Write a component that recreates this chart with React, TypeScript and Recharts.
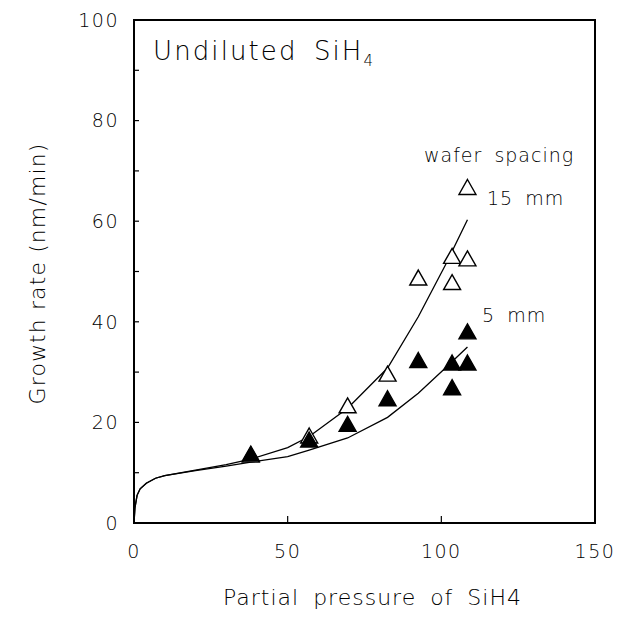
import React from "react";
import {
  ComposedChart,
  Line,
  Scatter,
  XAxis,
  YAxis,
  Label,
} from "recharts";

// measured points, wafer spacing 5 mm (filled) and 15 mm (open)
const pressure5 = [38, 57, 69.5, 82.5, 92.5, 103.5, 103.5, 108.5, 108.5];
const rate5 = [13.8, 16.6, 19.7, 24.8, 32.4, 31.9, 27.0, 38.1, 31.9];
const pressure15 = [38, 57, 69.5, 82.5, 92.5, 103.5, 103.5, 108.5, 108.5];
const rate15 = [13.6, 17.4, 23.4, 29.7, 48.8, 53.1, 47.9, 52.6, 66.8];

// model curves
const curveX = [0, 0.3, 1, 2, 4, 7, 10, 20, 30, 38, 50, 57, 69.5, 82.5, 92.5, 101.5, 108.5];
const fit15 = [0, 3, 5.5, 6.8, 7.9, 8.9, 9.4, 10.5, 11.6, 12.7, 15.0, 17.2, 22.8, 30.8, 41.0, 51.5, 60.3];
const fit5 = [0, 3, 5.5, 6.8, 7.9, 8.9, 9.4, 10.4, 11.3, 12.1, 13.2, 14.5, 16.9, 21.0, 25.8, 30.9, 35.0];

const xTicks = [0, 50, 100, 150];
const yTicks = [0, 10, 20, 30, 40, 50, 60, 70, 80, 90, 100];

const pts5 = pressure5.map((x, i) => ({ x, y: rate5[i] }));
const pts15 = pressure15.map((x, i) => ({ x, y: rate15[i] }));
const line15 = curveX.map((x, i) => ({ x, y: fit15[i] }));
const line5 = curveX.map((x, i) => ({ x, y: fit5[i] }));

const FONT = "'DejaVu Sans', 'Liberation Sans', sans-serif";
const WEIGHT = 200;
const W = 628;
const H = 638;
const MARGIN = { top: 20, right: 33, left: 0, bottom: 0 };
const Y_AXIS_W = 134;
const X_AXIS_H = 115;
const Y_MARGIN = 15;
const X_MARGIN = 22;

const triangle = (filled: boolean) => (props: any) => {
  const { cx, cy } = props;
  const s = 8.5;
  const h = 15;
  const d = `M${cx},${cy - h / 2} L${cx + s},${cy + h / 2} L${cx - s},${cy + h / 2} Z`;
  return (
    <path
      d={d}
      fill={filled ? "#000" : "#fff"}
      stroke="#000"
      strokeWidth={1.4}
    />
  );
};

const YTick = (props: any) => {
  const { x, y, payload } = props;
  const axisX = x + Y_MARGIN;
  const v = payload.value;
  return (
    <g>
      <line x1={axisX} x2={axisX + 5} y1={y} y2={y} stroke="#000" strokeWidth={1.2} />
      {v % 20 === 0 && (
        <text
          x={x}
          y={y}
          dy="0.36em"
          textAnchor="end"
          fontSize={19}
          fontWeight={WEIGHT}
          letterSpacing={1.5}
          fontFamily={FONT}
          fill="#000"
        >
          {v}
        </text>
      )}
    </g>
  );
};

const XTick = (props: any) => {
  const { x, y, payload } = props;
  const axisY = y - X_MARGIN;
  return (
    <g>
      <line x1={x} x2={x} y1={axisY} y2={axisY - 7} stroke="#000" strokeWidth={1.2} />
      <text
        x={x}
        y={y}
        dy="0.71em"
        textAnchor="middle"
        fontSize={19}
        fontWeight={WEIGHT}
        letterSpacing={1.5}
        fontFamily={FONT}
        fill="#000"
      >
        {payload.value}
      </text>
    </g>
  );
};

const YTitle = (props: any) => {
  const { viewBox } = props;
  const cx = 37;
  const cy = viewBox.y + viewBox.height / 2 + 2;
  return (
    <text
      x={cx}
      y={cy}
      transform={`rotate(-90, ${cx}, ${cy})`}
      textAnchor="middle"
      dominantBaseline="central"
      fontSize={22}
      fontWeight={WEIGHT}
      letterSpacing={1.1}
      fontFamily={FONT}
      fill="#000"
    >
      Growth rate (nm/min)
    </text>
  );
};

const XTitle = (props: any) => {
  const { viewBox } = props;
  const cx = viewBox.x + viewBox.width / 2 + 8;
  return (
    <text
      x={cx}
      y={597}
      textAnchor="middle"
      dominantBaseline="central"
      fontSize={22}
      fontWeight={WEIGHT}
      letterSpacing={1}
      wordSpacing={6}
      fontFamily={FONT}
      fill="#000"
    >
      Partial pressure of SiH4
    </text>
  );
};

export default function App() {
  const textStyle = { fontFamily: FONT, fill: "#000", fontWeight: WEIGHT };
  const plotLeft = MARGIN.left + Y_AXIS_W;
  const plotTop = MARGIN.top;
  const plotW = W - plotLeft - MARGIN.right;
  const plotH = H - plotTop - MARGIN.bottom - X_AXIS_H;
  return (
    <div style={{ position: "absolute", left: 0, top: 0, width: W, height: H, background: "#fff" }}>
      <ComposedChart width={W} height={H} margin={MARGIN}>
        <XAxis
          type="number"
          dataKey="x"
          domain={[0, 150]}
          ticks={xTicks}
          tickSize={0}
          tickMargin={X_MARGIN}
          tick={<XTick />}
          axisLine={false}
          tickLine={false}
          height={X_AXIS_H}
        >
          <Label content={<XTitle />} />
        </XAxis>
        <YAxis
          type="number"
          dataKey="y"
          domain={[0, 100]}
          ticks={yTicks}
          tickSize={0}
          tickMargin={Y_MARGIN}
          tick={<YTick />}
          axisLine={false}
          tickLine={false}
          width={Y_AXIS_W}
          interval={0}
        >
          <Label content={<YTitle />} />
        </YAxis>
        <Line
          data={line15}
          dataKey="y"
          type="linear"
          stroke="#000"
          strokeWidth={1.3}
          dot={false}
          isAnimationActive={false}
        />
        <Line
          data={line5}
          dataKey="y"
          type="linear"
          stroke="#000"
          strokeWidth={1.3}
          dot={false}
          isAnimationActive={false}
        />
        <Scatter data={pts15} shape={triangle(false)} isAnimationActive={false} />
        <Scatter data={pts5} shape={triangle(true)} isAnimationActive={false} />
      </ComposedChart>
      <svg
        width={W}
        height={H}
        style={{ position: "absolute", left: 0, top: 0, pointerEvents: "none" }}
      >
        {/* plot frame */}
        <rect
          x={plotLeft}
          y={plotTop}
          width={plotW}
          height={plotH}
          fill="none"
          stroke="#000"
          strokeWidth={2}
        />
        <text x={153} y={60} fontSize={26} letterSpacing={2.1} wordSpacing={6} style={textStyle}>
          Undiluted SiH
          <tspan dy={6} fontSize={15}>4</tspan>
        </text>
        <text x={424} y={162} fontSize={19} letterSpacing={1} wordSpacing={5} style={textStyle}>
          wafer spacing
        </text>
        <text x={487} y={205} fontSize={19} letterSpacing={1} wordSpacing={5} style={textStyle}>
          15 mm
        </text>
        <text x={482} y={322} fontSize={19} letterSpacing={1} wordSpacing={5} style={textStyle}>
          5 mm
        </text>
      </svg>
    </div>
  );
}
